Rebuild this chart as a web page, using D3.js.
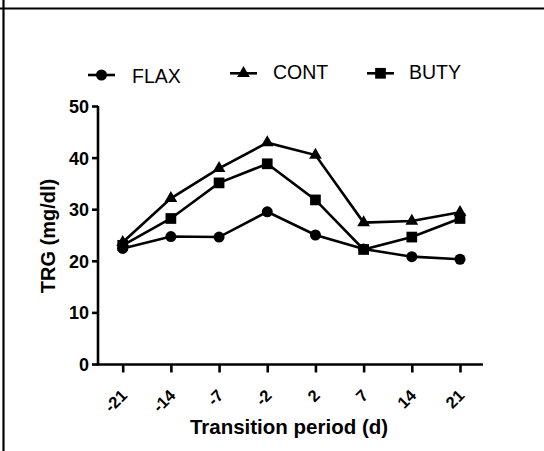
<!DOCTYPE html>
<html><head><meta charset="utf-8">
<script src="https://cdn.jsdelivr.net/npm/d3@7"></script>
<style>html,body{margin:0;padding:0;background:#fff;}svg{display:block;}</style>
</head><body>
<script>
const categories = ["-21","-14","-7","-2","2","7","14","21"];
const flax = [22.4, 24.7, 24.6, 29.5, 25.0, 22.3, 20.8, 20.3];
const cont = [23.6, 32.1, 37.9, 42.9, 40.5, 27.4, 27.7, 29.4];
const buty = [23.0, 28.2, 35.1, 38.8, 31.8, 22.2, 24.6, 28.2];
const yTicks = [0, 10, 20, 30, 40, 50];
const seriesNames = ["FLAX", "CONT", "BUTY"];

const W = 544, H = 451;
const svg = d3.select("body").append("svg").attr("width", W).attr("height", H);

// frame lines
svg.append("line").attr("x1", 0).attr("x2", W).attr("y1", 8.5).attr("y2", 8.5).attr("stroke", "#000").attr("stroke-width", 2.2);
svg.append("line").attr("x1", 3.5).attr("x2", 3.5).attr("y1", 0).attr("y2", H).attr("stroke", "#000").attr("stroke-width", 2.2);

const x = d3.scalePoint().domain(categories).range([122.7, 460]);
const y = d3.scaleLinear().domain([0, 50]).range([364, 106]);

const font = "Arial, 'Liberation Sans', sans-serif";
const SW = 2.6;

// y axis
const yAxis = svg.append("g").attr("transform", "translate(98,0)")
  .call(d3.axisLeft(y).tickValues(yTicks).tickSize(6).tickPadding(3));
yAxis.select(".domain").attr("stroke-width", SW).attr("d", `M0,${y(50)}V${y(0)+1.3}`);
yAxis.selectAll(".tick line").attr("stroke-width", SW);
yAxis.selectAll(".tick text").attr("font-family", font).attr("font-weight", "bold").attr("font-size", 18).attr("fill", "#000").attr("dy", "0.36em");

// x axis
const xAxis = svg.append("g").attr("transform", "translate(0,364.5)")
  .call(d3.axisBottom(x).tickSize(8).tickPadding(4));
xAxis.select(".domain").attr("stroke-width", SW).attr("d", `M96.7,0H483`);
xAxis.selectAll(".tick line").attr("stroke-width", SW);
xAxis.selectAll(".tick text")
  .attr("font-family", font).attr("font-weight", "bold").attr("font-size", 16.5).attr("fill", "#000")
  .attr("text-anchor", "end").attr("dy", null).attr("y", 0)
  .attr("transform", "translate(5,32) rotate(-45)");

// axis titles
svg.append("text").attr("x", 289).attr("y", 434).attr("text-anchor", "middle")
  .attr("font-family", font).attr("font-weight", "bold").attr("font-size", 20.5).text("Transition period (d)");
svg.append("text").attr("transform", "translate(55,236) rotate(-90)").attr("text-anchor", "middle")
  .attr("font-family", font).attr("font-weight", "bold").attr("font-size", 20).text("TRG (mg/dl)");

const series = [
  {name: seriesNames[0], values: flax, sym: d3.symbolCircle, size: 95},
  {name: seriesNames[1], values: cont, sym: d3.symbolTriangle, size: 70},
  {name: seriesNames[2], values: buty, sym: d3.symbolSquare, size: 115}
];

const line = d3.line().x((d, i) => x(categories[i])).y(d => y(d));
series.forEach(s => {
  svg.append("path").attr("d", line(s.values)).attr("fill", "none").attr("stroke", "#000").attr("stroke-width", SW);
});
series.forEach(s => {
  svg.append("g").selectAll("path").data(s.values).join("path")
    .attr("transform", (d, i) => `translate(${x(categories[i])},${y(d)})`)
    .attr("d", d3.symbol().type(s.sym).size(s.size)).attr("fill", "#000");
});

// legend
const legendPos = [{x: 88, y: 75, tx: 132, ty: 83}, {x: 230, y: 73.3, tx: 273, ty: 79}, {x: 367, y: 73.3, tx: 409, ty: 79}];
series.forEach((s, i) => {
  const p = legendPos[i];
  svg.append("line").attr("x1", p.x).attr("x2", p.x + 27).attr("y1", p.y).attr("y2", p.y).attr("stroke", "#000").attr("stroke-width", SW);
  svg.append("path").attr("transform", `translate(${p.x + 13.5},${p.y})`).attr("d", d3.symbol().type(s.sym).size(s.size)).attr("fill", "#000");
  svg.append("text").attr("x", p.tx).attr("y", p.ty).attr("font-family", font).attr("font-size", 19.5).text(s.name);
});
</script>
</body></html>
